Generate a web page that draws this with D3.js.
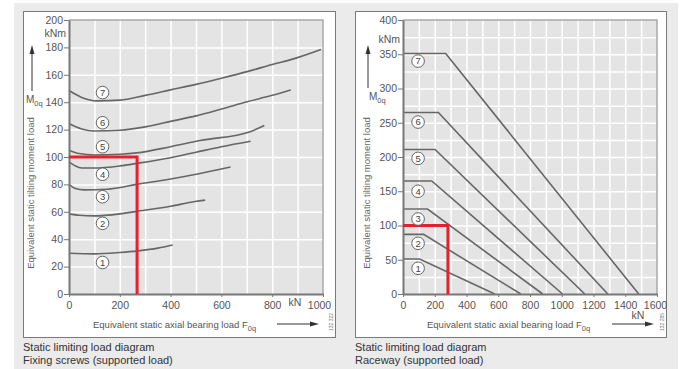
<!DOCTYPE html>
<html>
<head>
<meta charset="utf-8">
<script src="https://cdn.jsdelivr.net/npm/d3@7"></script>
<style>
  body { margin: 0; background: #fff; }
  svg { display: block; font-family: "Liberation Sans", Arial, sans-serif; }
</style>
</head>
<body>
<svg id="chart" width="681" height="369"></svg>
<script>
// Fixing screws: curves 1..7 as [F0q kN, M0q kNm]
const screwLabels = ['1', '2', '3', '4', '5', '6', '7'];
const screwCurve1 = [[0, 29.7], [100, 29.3], [200, 30.3], [272, 31.5], [350, 33.5], [408, 35.8]];
const screwCurve2 = [[0, 58.5], [40, 57.5], [100, 57], [200, 58.5], [272, 60.5], [400, 64], [496, 67.5], [536, 68.5]];
const screwCurve3 = [[0, 80], [25, 77], [60, 76], [150, 76.5], [266, 80], [400, 84], [516, 88], [636, 92.7]];
const screwCurve4 = [[0, 96.5], [25, 93.5], [50, 92], [100, 92], [200, 93.5], [272, 95.5], [400, 99.5], [500, 103.5], [600, 107.5], [715, 111.5]];
const screwCurve5 = [[0, 105], [40, 102.5], [100, 101.5], [200, 102], [266, 103], [400, 107.5], [516, 112], [713, 118.5], [769, 123]];
const screwCurve6 = [[0, 124.5], [50, 120.5], [100, 119], [200, 119.5], [300, 122], [400, 126], [500, 130], [600, 135], [705, 140.5], [800, 145], [873, 149]];
const screwCurve7 = [[0, 148.5], [50, 143.5], [110, 141], [200, 141.5], [300, 145], [400, 149], [500, 153], [600, 157.5], [705, 162.5], [800, 167.5], [890, 172], [992, 178.5]];
const screwCurves = [screwCurve1, screwCurve2, screwCurve3, screwCurve4, screwCurve5, screwCurve6, screwCurve7];
const screwLabelLoad = 132;
const screwLabelMoment = [23, 51.6, 71, 87.4, 107.5, 125, 147];
const screwXTicks = [0, 200, 400, 600, 800, 1000];
const screwYTicks = [0, 20, 40, 60, 80, 100, 120, 140, 160, 180, 200];
const screwRed = [268, 100];

// Raceway: flat moment up to a knee, then straight down to zero
const racewayLabels = ['1', '2', '3', '4', '5', '6', '7'];
const racewayMoment = [51, 87, 124, 165, 211, 265, 351];
const racewayKnee = [105, 130, 155, 181, 202, 223, 269];
const racewayZero = [578, 742, 880, 1005, 1145, 1290, 1485];
const racewayLabelLoad = 95;
const racewayLabelMoment = [37.5, 74, 109.5, 150, 198, 251, 340];
const racewayXTicks = [0, 200, 400, 600, 800, 1000, 1200, 1400, 1600];
const racewayYTicks = [0, 50, 100, 150, 200, 250, 300, 350, 400];
const racewayRed = [283, 100];

const svg = d3.select('#chart');

// page background
svg.append('rect').attr('x', 14).attr('y', 3).attr('width', 664).attr('height', 366).attr('fill', '#ebebeb');

function drawDiagram(o) {
  const g = svg.append('g');
  const top = 20, bottom = 294;

  const x = d3.scaleLinear().domain([0, o.xMax]).range([o.left, o.left + 254]);
  const y = d3.scaleLinear().domain([0, o.yMax]).range([bottom, top]);

  // panel
  g.append('rect')
    .attr('x', o.panelX + 0.5).attr('y', 11.5)
    .attr('width', o.panelW).attr('height', 326)
    .attr('fill', '#fff').attr('stroke', '#7a7a7a');

  // plot area
  g.append('rect')
    .attr('x', x(0)).attr('y', top)
    .attr('width', x(o.xMax) - x(0)).attr('height', bottom - top)
    .attr('fill', '#e4e4e4');

  // grid
  g.append('g')
    .attr('transform', `translate(0,${bottom})`)
    .call(d3.axisBottom(x).tickValues(d3.range(o.xGrid, o.xMax, o.xGrid)).tickSize(-(bottom - top)).tickFormat(''))
    .call(a => a.select('.domain').remove())
    .call(a => a.selectAll('line').attr('stroke', '#fff').attr('stroke-width', 1.5));
  g.append('g')
    .attr('transform', `translate(${o.left},0)`)
    .call(d3.axisLeft(y).tickValues(d3.range(o.yGrid, o.yMax, o.yGrid)).tickSize(-(x(o.xMax) - x(0))).tickFormat(''))
    .call(a => a.select('.domain').remove())
    .call(a => a.selectAll('line').attr('stroke', '#fff').attr('stroke-width', 1.5));

  // top and right frame
  g.append('path')
    .attr('d', `M${x(0)},${top}H${x(o.xMax)}V${bottom}`)
    .attr('fill', 'none').attr('stroke', '#a9a9a9').attr('stroke-width', 1.5);

  // curves
  const line = d3.line().x(d => x(d[0])).y(d => y(d[1])).curve(o.curve);
  g.selectAll('.curve')
    .data(o.series)
    .enter()
    .append('path')
    .attr('d', line)
    .attr('fill', 'none')
    .attr('stroke', '#666')
    .attr('stroke-width', 1.6);

  // axes
  const yAxis = g.append('g')
    .attr('transform', `translate(${o.left},0)`)
    .call(d3.axisLeft(y).tickValues(o.yTicks).tickFormat(d3.format('d')).tickSize(5).tickPadding(1).tickSizeOuter(0));
  const xAxis = g.append('g')
    .attr('transform', `translate(0,${bottom})`)
    .call(d3.axisBottom(x).tickValues(o.xTicks).tickFormat(d3.format('d')).tickSize(3).tickPadding(5).tickSizeOuter(0));
  [yAxis, xAxis].forEach(a => {
    a.select('.domain').attr('stroke', '#777').attr('stroke-width', 2);
    a.selectAll('line').attr('stroke', '#777');
    a.selectAll('text').attr('fill', '#555').style('font-size', '10.5px').attr('font-family', null);
  });
  xAxis.selectAll('.tick').filter(d => d === o.xMax).select('text').attr('dx', o.lastTickDx);

  // red reading lines
  g.append('path')
    .attr('d', `M${x(0)},${y(o.red[1])}H${x(o.red[0])}V${y(0)}`)
    .attr('fill', 'none').attr('stroke', '#e8202a').attr('stroke-width', 3);

  // circled curve numbers
  const marks = g.selectAll('.mark')
    .data(o.labelMoment)
    .enter()
    .append('g')
    .attr('transform', d => `translate(${x(o.labelLoad)},${y(d)})`);
  marks.append('circle').attr('r', 6.3).attr('fill', '#fff').attr('stroke', '#555').attr('stroke-width', 0.9);
  marks.append('text')
    .attr('text-anchor', 'middle').attr('dy', '0.35em')
    .style('font-size', '9.5px').attr('fill', '#444')
    .text((d, i) => o.labels[i]);

  // unit labels
  g.append('text')
    .attr('x', o.left - 3).attr('y', y(o.kNmAt)).attr('dy', '0.35em')
    .attr('text-anchor', 'end').style('font-size', '10.5px').attr('fill', '#555')
    .text('kNm');
  g.append('text')
    .attr('x', o.kNx).attr('y', o.kNy).attr('dy', '0.71em')
    .attr('text-anchor', 'middle').style('font-size', '10.5px').attr('fill', '#555')
    .text('kN');

  // M0q with arrow
  const m = g.append('text').attr('x', o.mX).attr('y', o.mY).style('font-size', '10px').attr('fill', '#555');
  m.append('tspan').text('M');
  m.append('tspan').attr('dy', 3).style('font-size', '7.5px').text('0q');
  g.append('line')
    .attr('x1', o.arrowX).attr('x2', o.arrowX).attr('y1', o.arrowY1).attr('y2', 52)
    .attr('stroke', '#333').attr('stroke-width', 1);
  g.append('path')
    .attr('d', `M${o.arrowX},45L${o.arrowX - 2.5},54L${o.arrowX + 2.5},54Z`)
    .attr('fill', '#333');

  // rotated y title
  g.append('text')
    .attr('transform', `translate(${o.yTitleX},193) rotate(-90)`)
    .attr('text-anchor', 'middle').attr('dy', '0.35em')
    .style('font-size', '9.5px').attr('fill', '#666')
    .text('Equivalent static tilting moment load');

  // x title with arrow
  const t = g.append('text').attr('x', o.xTitleX).attr('y', 328).style('font-size', '9.5px').attr('fill', '#555');
  t.append('tspan').text('Equivalent static axial bearing load  F');
  t.append('tspan').attr('dy', 3).style('font-size', '7.5px').text('0q');
  g.append('line')
    .attr('x1', o.xArrow[0]).attr('x2', o.xArrow[1] - 7).attr('y1', 324).attr('y2', 324)
    .attr('stroke', '#333').attr('stroke-width', 1);
  g.append('path')
    .attr('d', `M${o.xArrow[1]},324L${o.xArrow[1] - 9},321.5L${o.xArrow[1] - 9},326.5Z`)
    .attr('fill', '#333');

  // drawing number
  g.append('text')
    .attr('transform', `translate(${o.codeX},322) rotate(-90)`)
    .attr('text-anchor', 'middle').attr('dy', '0.35em')
    .style('font-size', '5px').attr('fill', '#777')
    .text(o.code);

  // caption
  const c = g.append('text').attr('x', o.panelX).style('font-size', '11px').attr('fill', '#333');
  c.append('tspan').attr('x', o.panelX).attr('y', 351).text('Static limiting load diagram');
  c.append('tspan').attr('x', o.panelX).attr('y', 363.5).text(o.caption);
}

drawDiagram({
  panelX: 23, panelW: 312, left: 69,
  xMax: 1000, yMax: 200, xGrid: 100, yGrid: 20,
  xTicks: screwXTicks, yTicks: screwYTicks, lastTickDx: -4,
  series: screwCurves, curve: d3.curveMonotoneX,
  labels: screwLabels, labelLoad: screwLabelLoad, labelMoment: screwLabelMoment,
  red: screwRed, kNmAt: 190, kNx: 295, kNy: 299,
  mX: 26, mY: 103, arrowX: 32, arrowY1: 91, yTitleX: 31,
  xTitleX: 93, xArrow: [277, 319], codeX: 331, code: '132 322',
  caption: 'Fixing screws (supported load)'
});

drawDiagram({
  panelX: 355, panelW: 311, left: 403,
  xMax: 1600, yMax: 400, xGrid: 100, yGrid: 25,
  xTicks: racewayXTicks, yTicks: racewayYTicks, lastTickDx: -2,
  series: racewayMoment.map((m, i) => [[0, m], [racewayKnee[i], m], [racewayZero[i], 0]]),
  curve: d3.curveLinear,
  labels: racewayLabels, labelLoad: racewayLabelLoad, labelMoment: racewayLabelMoment,
  red: racewayRed, kNmAt: 372, kNx: 638, kNy: 311.5,
  mX: 369, mY: 100, arrowX: 368, arrowY1: 88, yTitleX: 367,
  xTitleX: 427, xArrow: [612, 654], codeX: 662, code: '132 285',
  caption: 'Raceway (supported load)'
});
</script>
</body>
</html>
